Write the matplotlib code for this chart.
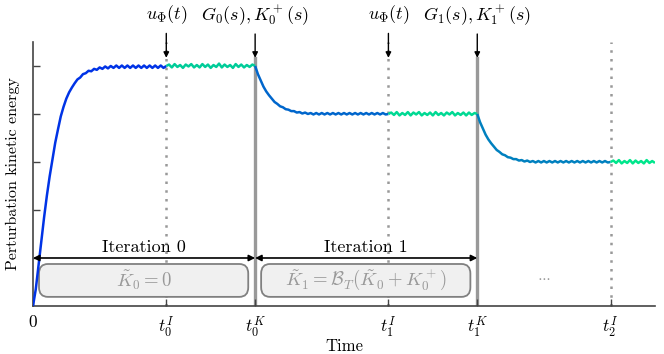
import numpy as np
import matplotlib
matplotlib.use("Agg")
import matplotlib.pyplot as plt
from matplotlib.patches import FancyBboxPatch

plt.rcParams['font.family'] = 'serif'
plt.rcParams['font.serif'] = ['cmr10']
plt.rcParams['mathtext.fontset'] = 'cm'
plt.rcParams['axes.formatter.use_mathtext'] = True

# event times
t_int = [3, 8, 13]      # t_k^I
t_kick = [5, 10]        # t_k^K
t_end = 14

tick_pos = [0, 3, 5, 8, 10, 13]
tick_labels = ['0', r'$t_0^I$', r'$t_0^K$', r'$t_1^I$', r'$t_1^K$', r'$t_2^I$']

rise0 = [0.00, 0.35, 0.85, 1.35, 1.85, 2.30, 2.70, 3.05, 3.40, 3.68,
         3.95, 4.15, 4.32, 4.45, 4.55, 4.64, 4.72, 4.76, 4.83, 4.85,
         4.90, 4.89, 4.94, 4.92, 4.97, 4.94, 4.99, 4.95, 5.00, 4.96,
         5.01, 4.96, 5.01, 4.96, 5.01, 4.96, 5.01, 4.96, 5.01, 4.96,
         5.01, 4.96, 5.01, 4.96, 5.01, 4.96, 5.01, 4.96, 5.00]
plateau0 = [5.00, 5.03, 4.97, 5.04, 4.98, 5.02, 4.96, 5.03, 4.99, 5.04,
            4.97, 5.02, 4.97, 5.04, 4.98, 5.03, 4.96, 5.02, 4.98, 5.05,
            4.97, 5.03, 4.98, 5.02, 4.96, 5.04, 4.98, 5.03, 4.97, 5.02,
            4.98, 5.03, 5.00]
decay1 = [5.00, 4.83, 4.70, 4.57, 4.47, 4.39, 4.32, 4.25, 4.21, 4.16,
          4.14, 4.10, 4.09, 4.06, 4.06, 4.03, 4.04, 4.01, 4.03, 4.00,
          4.02, 3.99, 4.02, 3.99, 4.02, 3.99, 4.02, 3.99, 4.02, 3.99,
          4.02, 3.99, 4.02, 3.99, 4.02, 3.99, 4.02, 3.99, 4.02, 3.99,
          4.02, 3.99, 4.02, 3.99, 4.02, 3.99, 4.02, 3.99, 4.00]
plateau1 = [4.00, 4.03, 3.98, 4.04, 3.97, 4.02, 3.98, 4.04, 3.97, 4.03,
            3.99, 4.04, 3.97, 4.02, 3.98, 4.03, 3.97, 4.04, 3.98, 4.02,
            3.97, 4.03, 3.99, 4.04, 3.97, 4.02, 3.98, 4.03, 3.97, 4.03,
            3.98, 4.02, 4.00]
decay2 = [4.00, 3.83, 3.70, 3.57, 3.47, 3.39, 3.32, 3.25, 3.21, 3.16,
          3.14, 3.10, 3.09, 3.06, 3.06, 3.03, 3.04, 3.01, 3.03, 3.00,
          3.02, 2.99, 3.02, 2.99, 3.02, 2.99, 3.02, 2.99, 3.02, 2.99,
          3.02, 2.99, 3.02, 2.99, 3.02, 2.99, 3.02, 2.99, 3.02, 2.99,
          3.02, 2.99, 3.02, 2.99, 3.02, 2.99, 3.02, 2.99, 3.00]
plateau2 = [3.00, 3.03, 2.98, 3.04, 2.97, 3.02, 2.98, 3.04, 2.97, 3.03,
            2.98, 3.02, 2.97, 3.04, 2.98, 3.02, 2.98]

segments = [
    (0, 3, rise0, '#0033e6'),
    (3, 5, plateau0, '#00cc99'),
    (5, 8, decay1, '#0066cc'),
    (8, 10, plateau1, '#00d993'),
    (10, 13, decay2, '#0080bf'),
    (13, 14, plateau2, '#00e68c'),
]

top_labels = [r'$u_{\boldsymbol{\Phi}}(t)$', r'$G_0(s), K_0^+(s)$',
              r'$u_{\boldsymbol{\Phi}}(t)$', r'$G_1(s), K_1^+(s)$']
top_pos = [3, 5, 8, 10]

iter_labels = ['Iteration 0', 'Iteration 1']
box_labels = [r'$\tilde{K}_0 = 0$',
              r'$\tilde{K}_1 = \mathcal{B}_T(\tilde{K}_0 + K_0^+)$']

fig = plt.figure(figsize=(6.64, 3.54), dpi=100)
ax = fig.add_axes([0.0497, 0.1356, 0.9367, 0.7458])

grey = '#999999'
for t in t_int:
    ax.plot([t, t], [0, 5.5], color=grey, lw=1.8, ls=(0, (1, 2.5)),
            zorder=1, clip_on=False)
for t in t_kick:
    ax.plot([t, t], [0, 5.17], color=grey, lw=2.4, zorder=1)

for t0, t1, vals, c in segments:
    tt = np.linspace(t0, t1, len(vals))
    ax.plot(tt, vals, color=c, lw=1.8, zorder=3, solid_capstyle='butt')

for t, lab in zip(top_pos, top_labels):
    ax.annotate(lab, xy=(t, 5.17), xytext=(t, 6.06), ha='center', va='center',
                fontsize=13, annotation_clip=False,
                arrowprops=dict(arrowstyle='-|>', color='black', lw=1,
                                mutation_scale=8, shrinkA=3, shrinkB=0))

starts = [0] + t_kick[:-1]
for i, (a, b) in enumerate(zip(starts, t_kick)):
    ax.annotate('', xy=(a, 1.0), xytext=(b, 1.0),
                arrowprops=dict(arrowstyle='<|-|>', color='black', lw=1.2,
                                mutation_scale=9, shrinkA=0, shrinkB=0),
                zorder=4)
    ax.text((a + b) / 2, 1.06, iter_labels[i], ha='center', va='bottom',
            fontsize=13)
    box = FancyBboxPatch((a + 0.135, 0.19), b - a - 0.29, 0.685,
                         boxstyle='round,pad=0,rounding_size=0.2',
                         fc='#f0f0f0', ec='#808080', lw=1.3, zorder=2)
    ax.add_patch(box)
    ax.text((a + b) / 2, 0.54, box_labels[i], ha='center', va='center',
            fontsize=13.5, color=grey, zorder=5)

ax.text(11.5, 0.58, r'$\cdots$', ha='center', va='center', fontsize=10,
        color=grey)

ax.set_xlim(0, t_end)
ax.set_ylim(0, 5.5)
ax.set_xticks(tick_pos)
ax.set_xticklabels(tick_labels, fontsize=12.5)
ax.set_yticks([1, 2, 3, 4, 5])
ax.set_yticklabels([])
ax.tick_params(direction='in', length=5, width=1, color='#444444')
ax.tick_params(axis='x', pad=6)
for s in ['top', 'right']:
    ax.spines[s].set_visible(False)
for s in ['left', 'bottom']:
    ax.spines[s].set_color('#444444')
    ax.spines[s].set_linewidth(1.2)

ax.set_xlabel('Time', fontsize=12, labelpad=0)
ax.set_ylabel('Perturbation kinetic energy', fontsize=11.5)
ax.yaxis.set_label_coords(-0.021, 0.5)

fig.savefig('out.png', dpi=100)
